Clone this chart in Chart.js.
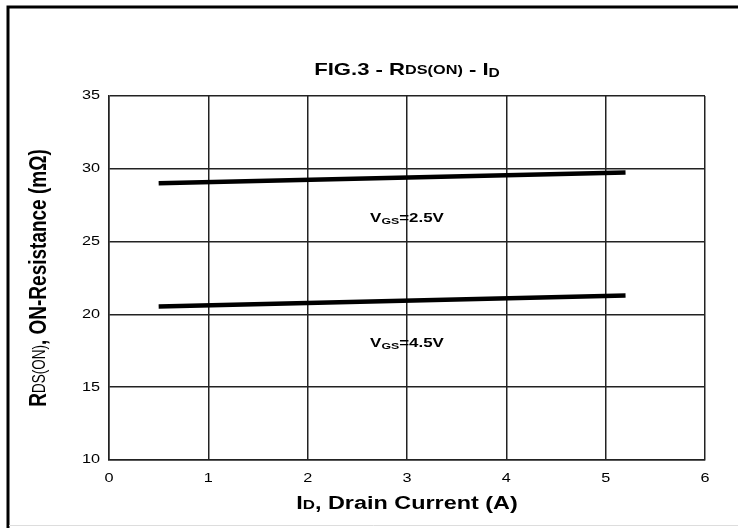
<!DOCTYPE html>
<html>
<head>
<meta charset="utf-8">
<script src="https://cdn.jsdelivr.net/npm/chart.js@4/dist/chart.umd.min.js"></script>
<style>
  html, body { margin: 0; padding: 0; background: #fff; }
  #wrap { width: 738px; height: 528px; position: relative; }
</style>
</head>
<body>
<div id="wrap"><canvas id="c"></canvas></div>
<script>
const currentA = [0.5, 5.2];
const vgs25 = [29.0, 29.75];
const vgs45 = [20.55, 21.3];
const seriesLabels = ["2.5V", "4.5V"];
const labelPos = [[3, 26.6], [3, 18.0]];
const xTicks = [0, 1, 2, 3, 4, 5, 6];
const yTicks = [10, 15, 20, 25, 30, 35];

const FONT = "'Liberation Sans', Arial, sans-serif";
const SX = 1.3; // the reference text is stretched sideways

// parts: [text, size, bold, dy]
function richWidth(ctx, parts) {
  let w = 0;
  for (const p of parts) {
    ctx.font = `${p[2] ? "bold " : ""}${p[1]}px ${FONT}`;
    w += ctx.measureText(p[0]).width;
  }
  return w;
}
// draws centred at (cx, cy); sx stretches along the text, sy across it
function drawRich(ctx, parts, cx, cy, rot, align) {
  ctx.save();
  ctx.translate(cx, cy);
  if (rot) { ctx.rotate(rot); ctx.scale(1, SX); } else ctx.scale(SX, 1);
  const w = richWidth(ctx, parts);
  let x = align === "right" ? -w : -w / 2;
  ctx.textBaseline = "middle";
  ctx.textAlign = "left";
  ctx.fillStyle = "#000";
  for (const p of parts) {
    ctx.font = `${p[2] ? "bold " : ""}${p[1]}px ${FONT}`;
    ctx.fillText(p[0], x, p[3] || 0);
    x += ctx.measureText(p[0]).width;
  }
  ctx.restore();
}

const decor = {
  id: "decor",
  afterDraw(chart) {
    const ctx = chart.ctx;
    const { x, y } = chart.scales;
    const area = chart.chartArea;
    ctx.save();
    // frame
    ctx.strokeStyle = "#000";
    ctx.lineWidth = 3;
    ctx.beginPath();
    ctx.moveTo(8, 528);
    ctx.lineTo(8, 7);
    ctx.lineTo(738, 7);
    ctx.stroke();
    ctx.strokeStyle = "#ddd";
    ctx.lineWidth = 1;
    ctx.beginPath();
    ctx.moveTo(9, 525.5);
    ctx.lineTo(738, 525.5);
    ctx.stroke();

    // tick labels
    x.ticks.forEach(t => drawRich(ctx, [[String(t.value), 12.5, false]], x.getPixelForValue(t.value), area.bottom + 19));
    y.ticks.forEach(t => drawRich(ctx, [[String(t.value), 12.5, false]], area.left - 9, y.getPixelForValue(t.value), 0, "right"));

    const cx = (area.left + area.right) / 2;
    // title
    drawRich(ctx, [["FIG.3 - R", 17, true], ["DS(ON)", 12.5, true, 1], [" - I", 17, true], ["D", 12, true, 4]], cx, 70);
    // x axis title
    drawRich(ctx, [["I", 18, true], ["D", 13, true, 1], [", Drain Current (A)", 18, true]], cx, 504);
    // y axis title
    drawRich(ctx, [["R", 19, true], ["DS(ON)", 13.5, false, 1], [", ON-Resistance (m\u03a9)", 19, true]], 39, (area.top + area.bottom) / 2, -Math.PI / 2);
    // series labels
    seriesLabels.forEach((s, i) => {
      const px = x.getPixelForValue(labelPos[i][0]);
      const py = y.getPixelForValue(labelPos[i][1]);
      drawRich(ctx, [["V", 13, true], ["GS", 9.5, true, 3], ["=" + s, 13, true]], px, py);
    });
    ctx.restore();
  }
};

new Chart(document.getElementById("c"), {
  type: "line",
  data: {
    datasets: [
      { label: "VGS=2.5V", data: currentA.map((v, i) => ({ x: v, y: vgs25[i] })) },
      { label: "VGS=4.5V", data: currentA.map((v, i) => ({ x: v, y: vgs45[i] })) }
    ].map(d => Object.assign(d, { borderColor: "#000", borderWidth: 4.5, pointRadius: 0, fill: false }))
  },
  options: {
    responsive: true,
    maintainAspectRatio: false,
    animation: false,
    layout: { padding: { left: 0, right: 33, top: 96, bottom: 0 } },
    plugins: { legend: { display: false }, tooltip: { enabled: false } },
    scales: {
      x: {
        type: "linear",
        min: 0, max: 6,
        afterBuildTicks: (s) => { s.ticks = xTicks.map(v => ({ value: v })); },
        afterFit: (s) => { s.height = 68; },
        ticks: { display: false },
        grid: { color: "#222", lineWidth: 1.5, drawTicks: false },
        border: { color: "#222", width: 1.5 }
      },
      y: {
        min: 10, max: 35,
        afterBuildTicks: (s) => { s.ticks = yTicks.map(v => ({ value: v })); },
        afterFit: (s) => { s.width = 109; },
        ticks: { display: false },
        grid: { color: "#222", lineWidth: 1.5, drawTicks: false },
        border: { color: "#222", width: 1.5 }
      }
    }
  },
  plugins: [decor]
});
</script>
</body>
</html>
